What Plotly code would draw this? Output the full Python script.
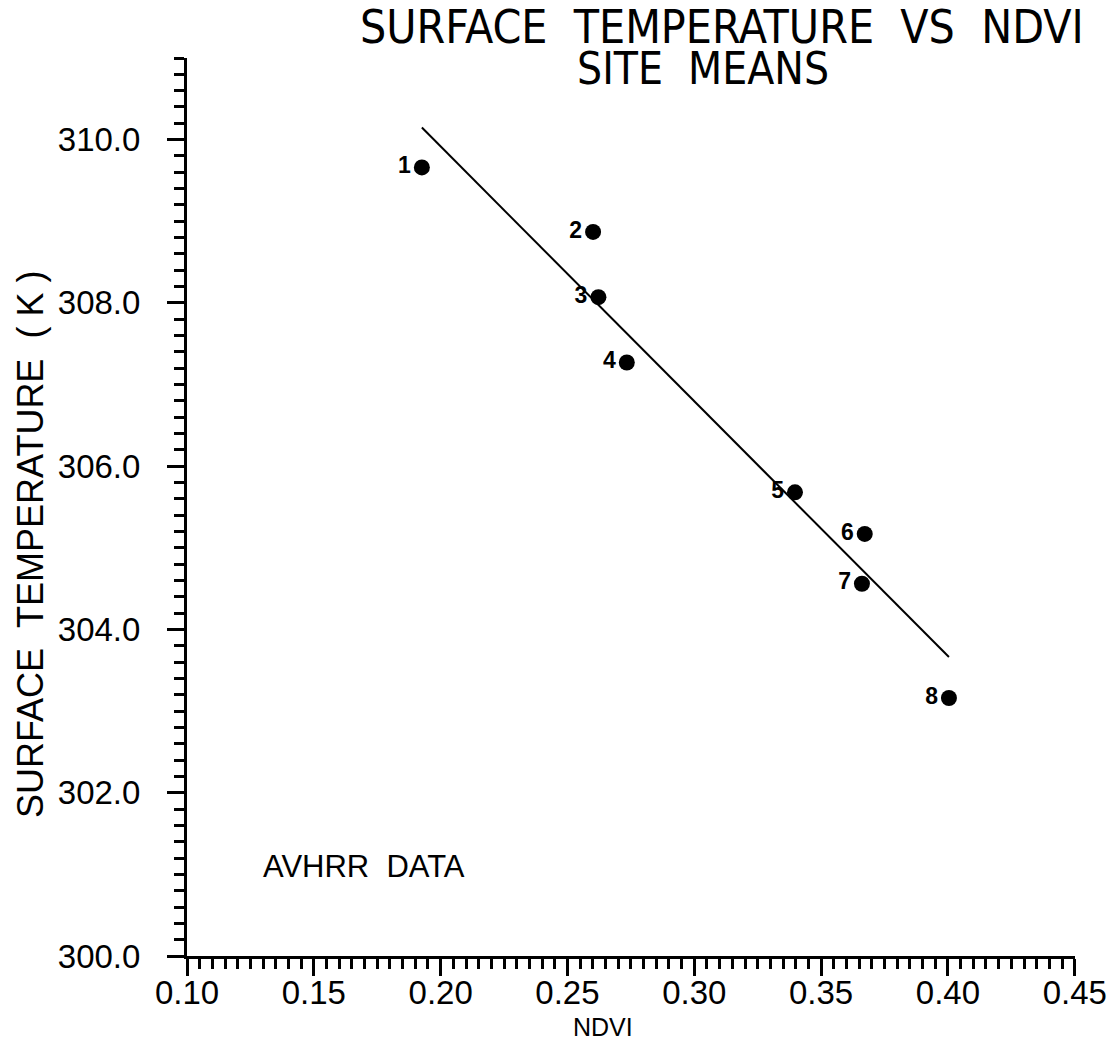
import numpy as np
import plotly.graph_objects as go

# Site means: NDVI and AVHRR surface temperature (K)
site_ids = ["1", "2", "3", "4", "5", "6", "7", "8"]
ndvi = [0.1926, 0.2601, 0.2622, 0.2734, 0.3397, 0.3672, 0.3661, 0.4004]
temp_k = [309.66, 308.87, 308.07, 307.27, 305.68, 305.17, 304.56, 303.16]

# Least-squares line drawn across the NDVI span of the sites
slope, intercept = np.polyfit(ndvi, temp_k, 1)
fit_x = [min(ndvi), max(ndvi)]
fit_y = [slope * v + intercept for v in fit_x]

W, H = 1107, 1043
L, R, T, B = 187, 32, 58, 87
pw, ph = W - L - R, H - T - B

def px(x):
    return (x - L) / pw

def py(y):
    return (H - B - y) / ph

fig = go.Figure()
fig.add_trace(go.Scatter(
    x=fit_x, y=fit_y, mode="lines",
    line=dict(color="black", width=2), hoverinfo="skip",
))
fig.add_trace(go.Scatter(
    x=ndvi, y=temp_k, mode="markers+text",
    marker=dict(color="black", size=16),
    text=site_ids, textposition="middle left",
    textfont=dict(family="Liberation Sans, Arial, sans-serif", size=23, color="black", weight="bold"),
))

sans = "Liberation Sans, Arial, sans-serif"
narrow = "Liberation Sans Narrow, DejaVu Sans Condensed, Arial Narrow, sans-serif"
nb2 = "\u00a0\u00a0"

annotations = [
    dict(text=nb2.join(["SURFACE", "TEMPERATURE", "VS", "NDVI"]), x=px(722), y=py(27),
         font=dict(family=narrow, size=46, color="black")),
    dict(text=nb2.join(["SITE", "MEANS"]), x=px(703), y=py(68),
         font=dict(family=narrow, size=44, color="black")),
    dict(text="SURFACE" + nb2 + "TEMPERATURE" + nb2 + "(" + "\u00a0" + "K" + "\u00a0" + ")",
         x=px(30), y=py(545), textangle=-90,
         font=dict(family=sans, size=36, color="black")),
    dict(text="NDVI", x=px(603), y=py(1027),
         font=dict(family=sans, size=25, color="black")),
    dict(text="AVHRR" + nb2 + "DATA", x=px(364), y=py(866),
         font=dict(family=sans, size=31, color="black")),
]
for a in annotations:
    a.update(xref="paper", yref="paper", showarrow=False, xanchor="center", yanchor="middle")

fig.update_layout(
    width=W, height=H,
    margin=dict(l=L, r=R, t=T, b=B, autoexpand=False),
    paper_bgcolor="white", plot_bgcolor="white",
    showlegend=False,
    annotations=annotations,
    xaxis=dict(
        range=[0.10, 0.4501], tickvals=[0.10, 0.15, 0.20, 0.25, 0.30, 0.35, 0.40, 0.45],
        tickformat=".2f", automargin=False,
        showgrid=False, zeroline=False, showline=True, linecolor="black", linewidth=3,
        ticks="outside", ticklen=17, tickwidth=2.5, tickcolor="black",
        tickfont=dict(family=sans, size=33, color="black"), ticklabelstandoff=-12,
        minor=dict(dtick=0.005, tick0=0.10, ticks="outside", ticklen=10, tickwidth=2.5,
                   tickcolor="black", showgrid=False),
    ),
    yaxis=dict(
        range=[300.0, 311.0], tick0=300, dtick=2, tickformat=".1f", automargin=False,
        showgrid=False, zeroline=False, showline=True, linecolor="black", linewidth=3,
        ticks="outside", ticklen=17, tickwidth=2.5, tickcolor="black",
        tickfont=dict(family=sans, size=33, color="black"), ticklabelstandoff=20,
        minor=dict(dtick=0.2, tick0=300, ticks="outside", ticklen=10, tickwidth=2.5,
                   tickcolor="black", showgrid=False),
    ),
)

fig.write_html("out.html")
